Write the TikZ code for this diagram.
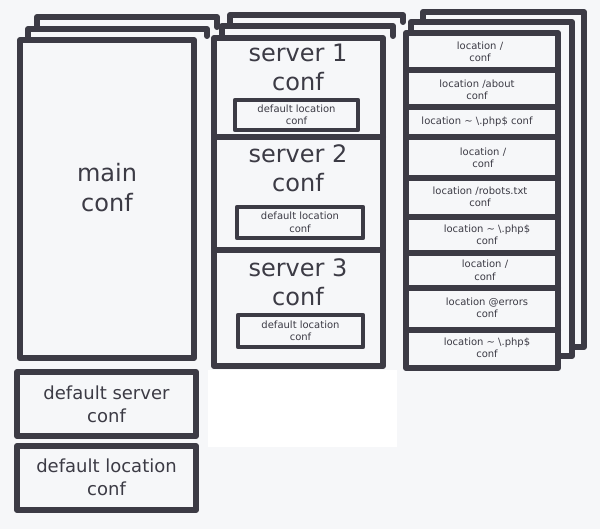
\documentclass[tikz,border=0pt]{standalone}
\usepackage{fontspec}
\setmainfont{DejaVu Sans}
\definecolor{ink}{HTML}{3C3B45}
\definecolor{paper}{HTML}{F6F7F9}

\begin{document}
\begin{tikzpicture}[x=1pt,y=-1pt,
    pen/.style={draw=ink,line width=6pt,line join=round,line cap=round},
    thinpen/.style={draw=ink,line width=4.5pt,line join=round},
    hugetxt/.style={text=ink,align=center,font=\fontsize{24}{30}\selectfont},
    bigtxt/.style={text=ink,align=center,font=\fontsize{24}{29}\selectfont},
    midtxt/.style={text=ink,align=center,font=\fontsize{18}{23}\selectfont},
    smalltxt/.style={text=ink,align=center,font=\fontsize{10}{12.5}\selectfont}]
        \fill[paper] (0,0) rectangle (600,529);
        \useasboundingbox (0,0) rectangle (600,529);
        \fill[white] (208,370) rectangle (397,447);

        % main column
        \draw[pen] (37,29) |- (217,17) -- (217,27);
        \draw[pen] (28,40) |- (207,29) -- (207,36);
        \draw[pen,fill=paper] (20,40) rectangle (194,358);
        \node[hugetxt] (main) at (107,188) {main\\conf};

        \draw[pen] (17,372) rectangle (196,436);
        \node[midtxt] (defserver) at (106.5,404) {default server\\conf};

        \draw[pen] (17,446) rectangle (196,510);
        \node[midtxt] (defloc) at (106.5,477) {default location\\conf};

        % server column
        \draw[pen] (230,26) |- (403,15) -- (403,22);
        \draw[pen] (222,38) |- (393,26) -- (393,36);
        \draw[pen,fill=paper] (214,38) rectangle (383,366);
        \draw[pen] (214,137) -- (383,137);
        \draw[pen] (214,250) -- (383,250);

        \node[bigtxt] (srv1) at (298,67.5) {server 1\\conf};
        \draw[thinpen] (235,100) rectangle (358,130);
        \node[smalltxt] (srv1loc) at (296.5,115) {default location\\conf};

        \node[bigtxt] (srv2) at (298,168.5) {server 2\\conf};
        \draw[thinpen] (237,207) rectangle (363,238);
        \node[smalltxt] (srv2loc) at (300,222.5) {default location\\conf};

        \node[bigtxt] (srv3) at (298,282.5) {server 3\\conf};
        \draw[thinpen] (238,315) rectangle (363,347);
        \node[smalltxt] (srv3loc) at (300.5,331) {default location\\conf};

        % location column
        \draw[pen,fill=paper] (423,12) rectangle (584,347);
        \draw[pen,fill=paper] (411,22) rectangle (572,356);
        \draw[pen,fill=paper] (406,33) rectangle (558,368);
        \draw[pen] (406,70) -- (558,70);
        \draw[pen] (406,107) -- (558,107);
        \draw[pen] (406,137) -- (558,137);
        \draw[pen] (406,178) -- (558,178);
        \draw[pen] (406,217) -- (558,217);
        \draw[pen] (406,253) -- (558,253);
        \draw[pen] (406,288) -- (558,288);
        \draw[pen] (406,330) -- (558,330);

        \node[smalltxt] (loc1) at (480,52) {location /\\conf};
        \node[smalltxt] (loc2) at (477,90) {location /about\\conf};
        \node[smalltxt] (loc3) at (477,122) {location \textasciitilde{} \textbackslash.php\$ conf};
        \node[smalltxt] (loc4) at (483,158) {location /\\conf};
        \node[smalltxt] (loc5) at (480,197) {location /robots.txt\\conf};
        \node[smalltxt] (loc6) at (487,235) {location \textasciitilde{} \textbackslash.php\$\\conf};
        \node[smalltxt] (loc7) at (485,270.5) {location /\\conf};
        \node[smalltxt] (loc8) at (487,308) {location @errors\\conf};
        \node[smalltxt] (loc9) at (487,348) {location \textasciitilde{} \textbackslash.php\$\\conf};
      \end{tikzpicture}
\end{document}
